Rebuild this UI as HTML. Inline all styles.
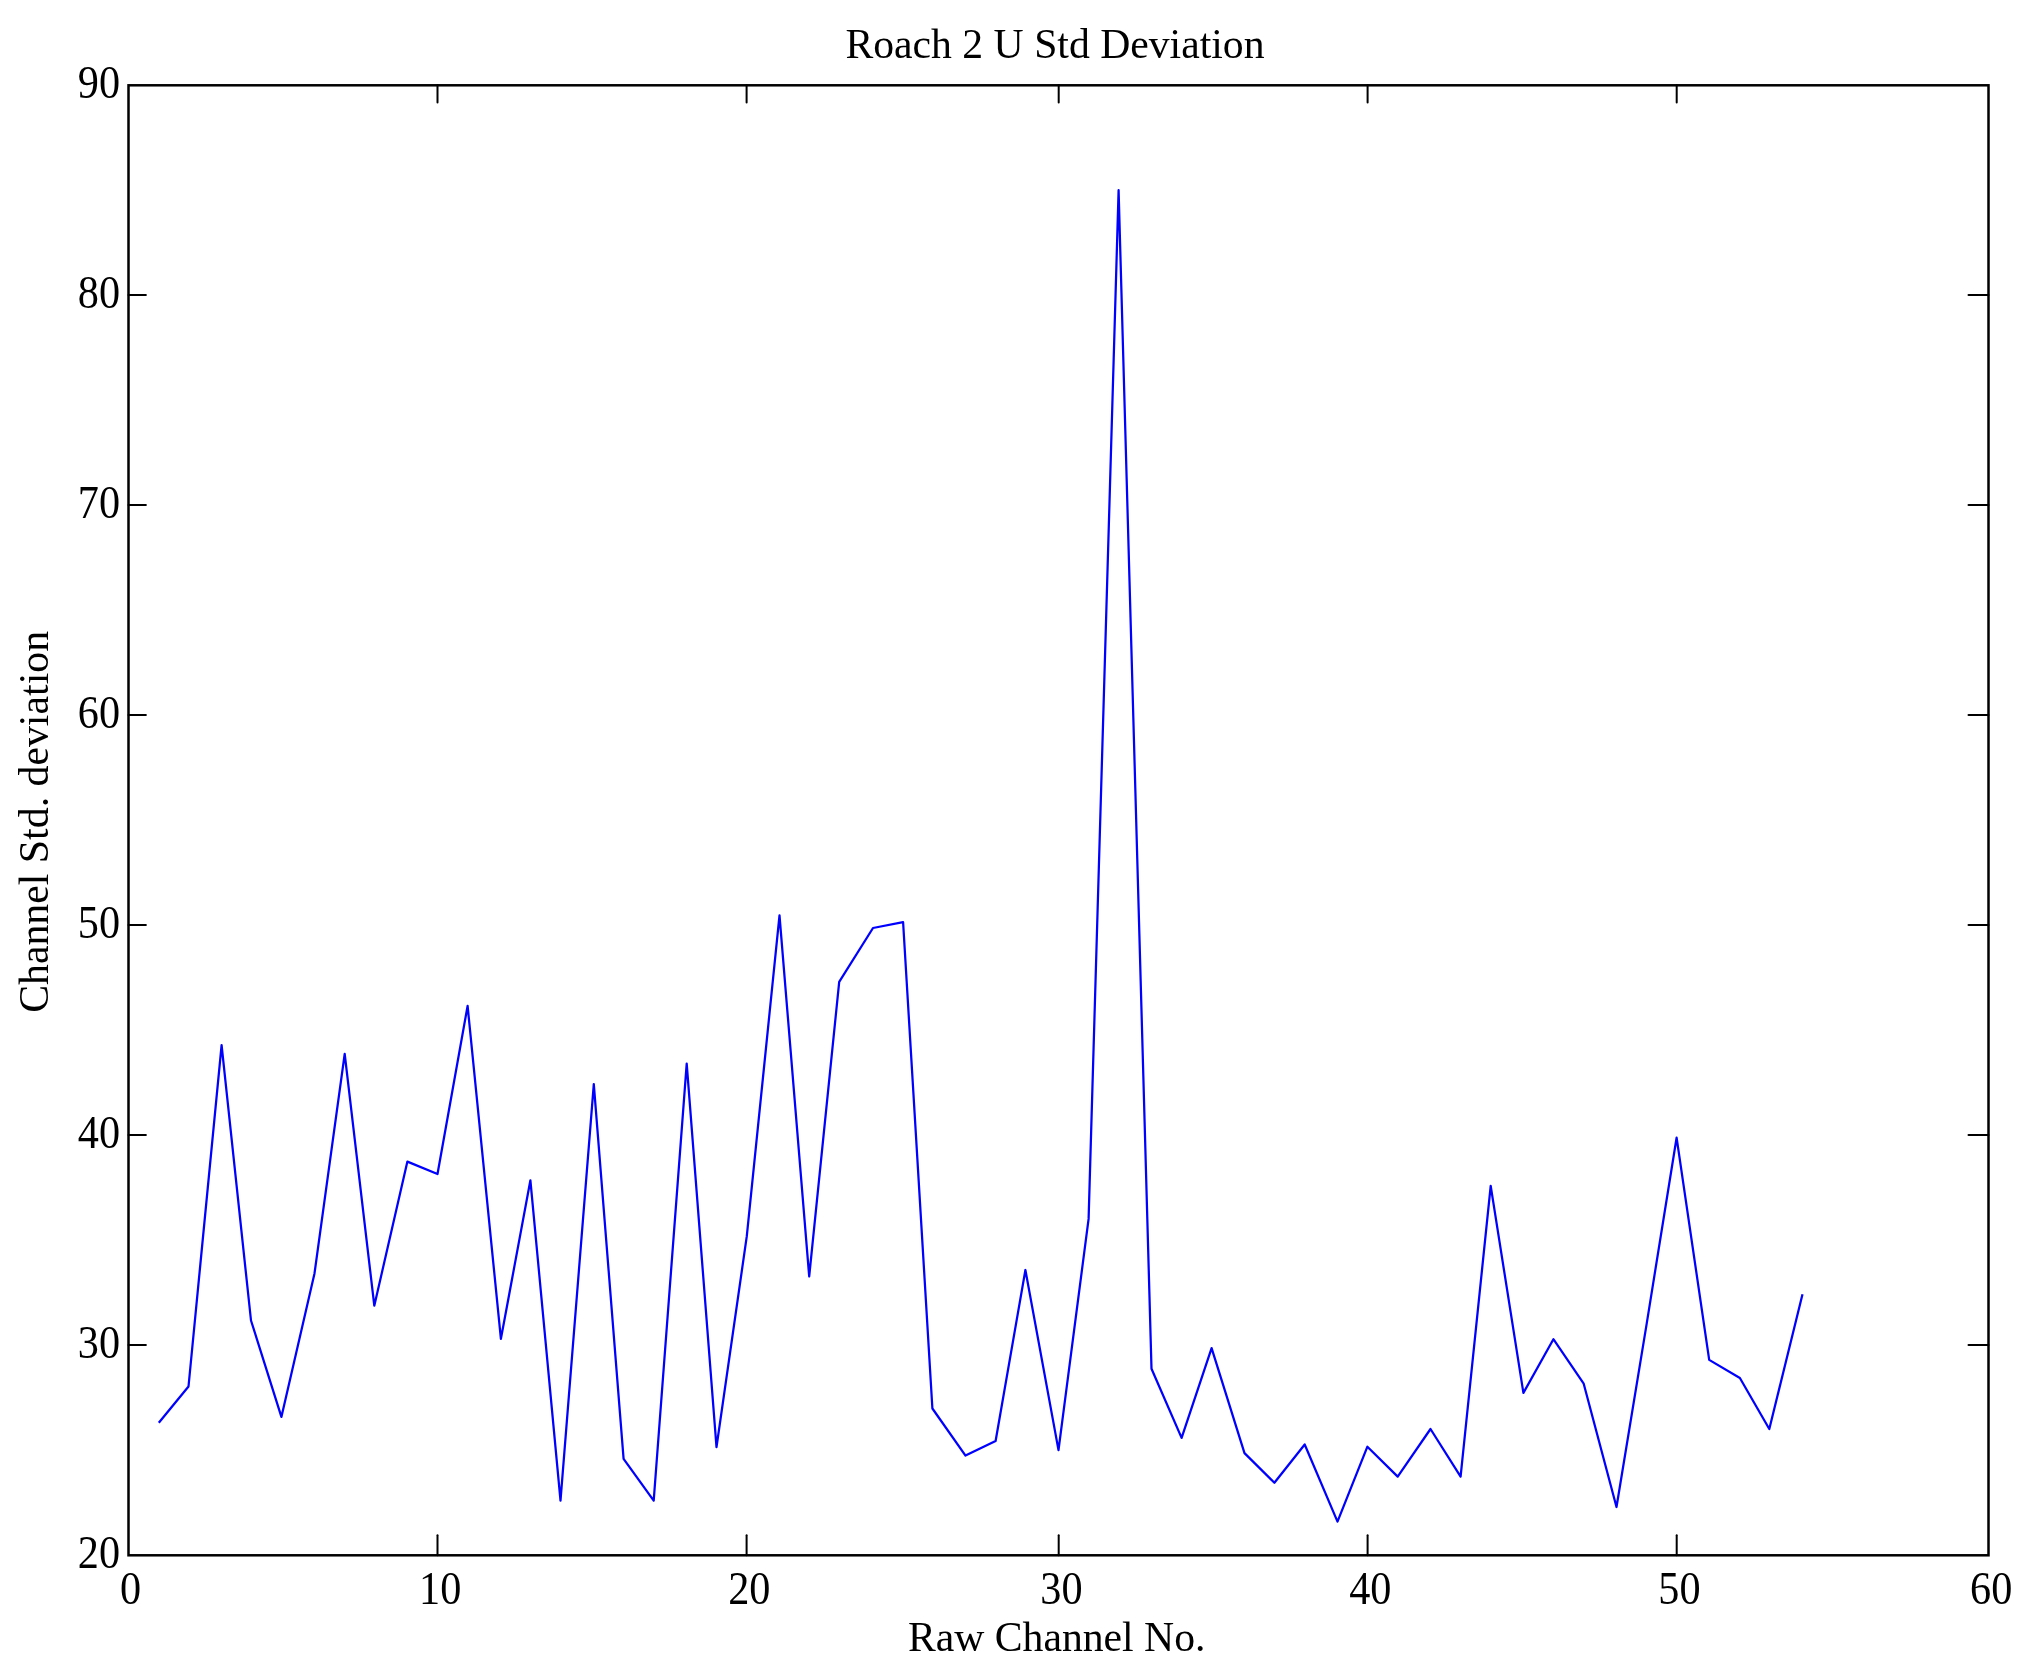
<!DOCTYPE html>
<html><head><meta charset="utf-8"><style>
html,body{margin:0;padding:0;background:#fff;width:2025px;height:1671px;overflow:hidden}
svg{position:absolute;left:0;top:0;will-change:transform}
text{font-family:"Liberation Serif",serif;fill:#000}
.tk{font-size:44px}
.lb{font-size:41.7px}
</style></head><body>
<svg width="2025" height="1671" viewBox="0 0 2025 1671">
<rect x="0" y="0" width="2025" height="1671" fill="#fff"/>
<polyline points="158.8,1422.8 188.5,1386.5 221.6,1045.2 251.0,1320.5 281.4,1416.9 314.5,1273.4 344.7,1053.9 374.3,1305.7 407.4,1161.6 437.5,1174.0 467.6,1005.9 500.9,1338.9 530.4,1180.3 560.5,1500.6 593.8,1084.2 623.6,1458.8 653.7,1500.6 686.7,1063.6 716.5,1447.2 746.8,1236.2 779.5,915.4 809.2,1276.5 839.2,981.9 873.0,928.0 903.1,922.2 932.4,1408.5 965.5,1455.6 995.6,1441.0 1025.4,1270.0 1058.5,1450.1 1088.6,1218.9 1118.6,190.2 1151.5,1368.8 1181.6,1437.9 1211.6,1348.1 1244.5,1453.1 1274.4,1482.7 1304.7,1444.5 1337.5,1521.6 1367.4,1446.7 1397.7,1476.6 1430.5,1429.0 1460.6,1476.6 1490.7,1185.9 1523.4,1392.9 1553.4,1339.2 1583.7,1383.7 1616.5,1507.0 1646.7,1323.6 1676.6,1137.7 1709.2,1359.9 1739.9,1378.0 1769.3,1429.0 1802.5,1294.2" fill="none" stroke="#0000ff" stroke-width="2.25" stroke-linejoin="round" stroke-linecap="butt"/>
<g stroke="#000" stroke-width="2" stroke-linecap="round">
<line x1="437.5" y1="1555.3" x2="437.5" y2="1535.3"/>
<line x1="437.5" y1="85.3" x2="437.5" y2="102.6"/>
<line x1="746.6" y1="1555.3" x2="746.6" y2="1535.3"/>
<line x1="746.6" y1="85.3" x2="746.6" y2="102.6"/>
<line x1="1058.7" y1="1555.3" x2="1058.7" y2="1535.3"/>
<line x1="1058.7" y1="85.3" x2="1058.7" y2="102.6"/>
<line x1="1367.6" y1="1555.3" x2="1367.6" y2="1535.3"/>
<line x1="1367.6" y1="85.3" x2="1367.6" y2="102.6"/>
<line x1="1676.7" y1="1555.3" x2="1676.7" y2="1535.3"/>
<line x1="1676.7" y1="85.3" x2="1676.7" y2="102.6"/>
<line x1="128.5" y1="1345.0" x2="145.9" y2="1345.0"/>
<line x1="1988.5" y1="1345.0" x2="1968.5" y2="1345.0"/>
<line x1="128.5" y1="1135.0" x2="145.9" y2="1135.0"/>
<line x1="1988.5" y1="1135.0" x2="1968.5" y2="1135.0"/>
<line x1="128.5" y1="925.0" x2="145.9" y2="925.0"/>
<line x1="1988.5" y1="925.0" x2="1968.5" y2="925.0"/>
<line x1="128.5" y1="715.0" x2="145.9" y2="715.0"/>
<line x1="1988.5" y1="715.0" x2="1968.5" y2="715.0"/>
<line x1="128.5" y1="505.0" x2="145.9" y2="505.0"/>
<line x1="1988.5" y1="505.0" x2="1968.5" y2="505.0"/>
<line x1="128.5" y1="295.0" x2="145.9" y2="295.0"/>
<line x1="1988.5" y1="295.0" x2="1968.5" y2="295.0"/>
</g>
<rect x="128.5" y="85.3" width="1860.0" height="1470.0" fill="none" stroke="#000" stroke-width="2.5"/>
<text transform="translate(130.5,1603.9) scale(0.96,1.07)" text-anchor="middle" class="tk">0</text>
<text transform="translate(440.2,1603.9) scale(0.96,1.07)" text-anchor="middle" class="tk">10</text>
<text transform="translate(749.3,1603.9) scale(0.96,1.07)" text-anchor="middle" class="tk">20</text>
<text transform="translate(1061.4,1603.9) scale(0.96,1.07)" text-anchor="middle" class="tk">30</text>
<text transform="translate(1370.3,1603.9) scale(0.96,1.07)" text-anchor="middle" class="tk">40</text>
<text transform="translate(1679.4,1603.9) scale(0.96,1.07)" text-anchor="middle" class="tk">50</text>
<text transform="translate(1991.2,1603.9) scale(0.96,1.07)" text-anchor="middle" class="tk">60</text>
<text transform="translate(120.0,1568.3) scale(0.96,1.07)" text-anchor="end" class="tk">20</text>
<text transform="translate(120.0,1358.3) scale(0.96,1.07)" text-anchor="end" class="tk">30</text>
<text transform="translate(120.0,1148.3) scale(0.96,1.07)" text-anchor="end" class="tk">40</text>
<text transform="translate(120.0,938.3) scale(0.96,1.07)" text-anchor="end" class="tk">50</text>
<text transform="translate(120.0,728.3) scale(0.96,1.07)" text-anchor="end" class="tk">60</text>
<text transform="translate(120.0,518.3) scale(0.96,1.07)" text-anchor="end" class="tk">70</text>
<text transform="translate(120.0,308.3) scale(0.96,1.07)" text-anchor="end" class="tk">80</text>
<text transform="translate(120.0,98.3) scale(0.96,1.07)" text-anchor="end" class="tk">90</text>
<text x="1055" y="57.9" text-anchor="middle" class="lb">Roach 2 U Std Deviation</text>
<text x="1056.7" y="1651.2" text-anchor="middle" class="lb">Raw Channel No.</text>
<text transform="translate(47.9,821.9) rotate(-90)" x="0" y="0" text-anchor="middle" class="lb" style="font-size:41.8px">Channel Std. deviation</text>
</svg>
</body></html>
